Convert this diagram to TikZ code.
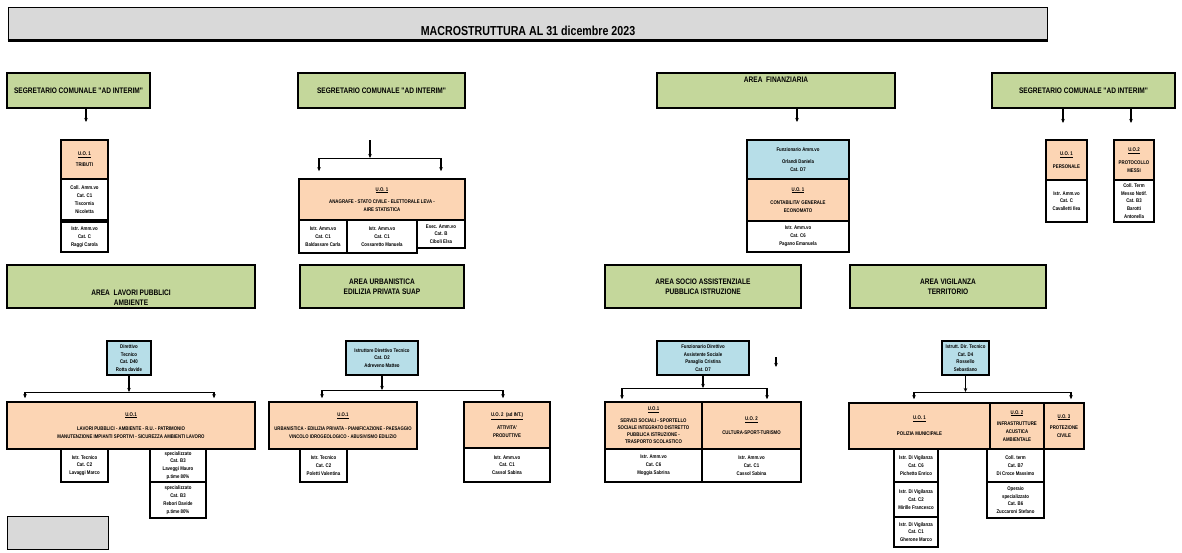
\documentclass[tikz,border=0pt]{standalone}
\usepackage{fontspec}
\usetikzlibrary{arrows.meta}
\newfontfamily\arialn[FakeStretch=0.82]{Liberation Sans}
\newcommand{\fonttitolo}{\arialn\bfseries\fontsize{13}{15}\selectfont}
\newcommand{\fontarea}{\arialn\bfseries\fontsize{8}{10}\selectfont}
\newcommand{\fontuo}{\arialn\bfseries\fontsize{5.3}{7.8}\selectfont}
\definecolor{verde}{HTML}{C4D79B}
\definecolor{pesca}{HTML}{FCD5B4}
\definecolor{azzurro}{HTML}{B7DEE8}
\definecolor{grigio}{HTML}{D9D9D9}
\begin{document}
\begin{tikzpicture}
	[x=1pt, y=-1pt,
	titolo/.style={draw, line width=1pt, fill=grigio, minimum width=1039, minimum height=33},
	area/.style={draw, line width=1.6pt, fill=verde, inner sep=0pt},
	uo/.style={draw, line width=1.6pt, fill=pesca, inner sep=0pt, align=center, font=\fontuo},
	resp/.style={draw, line width=1.6pt, fill=azzurro, inner sep=0pt, align=center, font=\fontuo},
	pers/.style={draw, line width=1.6pt, fill=white, inner sep=0pt, align=center, font=\fontuo},
	testo/.style={align=center, font=\fontarea},
	freccia/.style={->, line width=1.1pt},
	barra/.style={line width=0.7pt},
	>={Stealth[length=4pt,width=3.5pt]}]
	\useasboundingbox (0,0) rectangle (1182,552);
	% titolo
	\node (titolo) [titolo] at (527.5,23.5) {};
	\draw[line width=2.2pt] (titolo.south west) -- (titolo.south east);
	\node (titolotesto) [font=\fonttitolo] at (528,31) {MACROSTRUTTURA AL 31 dicembre 2023};
	% prima riga
	\node (segA) [area, testo, minimum width=143, minimum height=35] at (78.5,90.5) {SEGRETARIO COMUNALE "AD INTERIM"};
	\node (segB) [area, testo, minimum width=167, minimum height=35] at (381.5,90.5) {SEGRETARIO COMUNALE "AD INTERIM"};
	\node (segC) [area, minimum width=238, minimum height=35] at (776,90.5) {};
	\node (segCtesto) [testo] at (776,80) {AREA \ FINANZIARIA};
	\node (segD) [area, testo, minimum width=183, minimum height=35] at (1083.5,90.5) {SEGRETARIO COMUNALE "AD INTERIM"};
	% tributi
	\node (trib) [uo, minimum width=47, minimum height=39] at (84.5,159.5) {\underline{U.O. 1}\\[3pt]TRIBUTI};
	\node (tribp1) [pers, minimum width=47, minimum height=41] at (84.5,199.5) {Coll. Amm.vo\\Cat. C1\\Tiscornia\\Nicoletta};
	\node (tribp2) [pers, minimum width=47, minimum height=30] at (84.5,237) {Istr. Amm.vo\\Cat. C\\Raggi Carola};
	% anagrafe
	\node (anag) [uo, minimum width=166, minimum height=41] at (382,199.5) {\underline{U.O. 1}\\[5pt]ANAGRAFE - STATO CIVILE - ELETTORALE LEVA -\\AIRE STATISTICA};
	\node (anagp1) [pers, minimum width=48, minimum height=33] at (323,236.5) {Istr. Amm.vo\\Cat. C1\\Baldassare Carla};
	\node (anagp2) [pers, minimum width=70, minimum height=33] at (382,236.5) {Istr. Amm.vo\\Cat. C1\\Cossaretto Manuela};
	\node (anagp3) [pers, minimum width=48, minimum height=28] at (441,234) {Esec. Amm.vo\\Cat. B\\Ciboli Elsa};
	% finanziaria
	\node (finresp) [resp, minimum width=102, minimum height=39] at (798,159.5) {Funzionario Amm.vo\\[5pt]Orlandi Daniela\\Cat. D7};
	\node (fin) [uo, minimum width=102, minimum height=42] at (798,200) {\underline{U.O. 1}\\[6pt]CONTABILITA' GENERALE\\ECONOMATO};
	\node (finp) [pers, minimum width=102, minimum height=31] at (798,236.5) {Istr. Amm.vo\\Cat. C6\\Pagano Emanuela};
	% personale e protocollo
	\node (pers) [uo, minimum width=41, minimum height=40] at (1066.5,160) {\underline{U.O. 1}\\[5pt]PERSONALE};
	\node (persp) [pers, minimum width=41, minimum height=42] at (1066.5,201) {Istr. Amm.vo\\Cat. C\\Cavalletti Ilea};
	\node (prot) [uo, minimum width=40, minimum height=40] at (1134,160) {\underline{U.O.2}\\[5pt]PROTOCOLLO\\MESSI};
	\node (protp) [pers, minimum width=40, minimum height=42] at (1134,201) {Coll. Term\\Messo Notif.\\Cat. B3\\Barotti\\Antonella};
	% frecce prima riga
	\coordinate (a1) at (86,122);
	\coordinate (b0) at (370,140);
	\coordinate (b1) at (370,158);
	\coordinate (bL) at (319,158);
	\coordinate (bR) at (441,158);
	\coordinate (c1) at (797,122);
	\coordinate (d1) at (1063,123);
	\coordinate (d2) at (1131,123);
	\draw[freccia] (segA.south -| a1) -- (a1);
	\draw[freccia] (b0) -- (b1);
	\draw[barra] (bL) -- (bR);
	\draw[freccia, shorten >=7pt] (bL) -- (bL |- anag.north);
	\draw[freccia, shorten >=7pt] (bR) -- (bR |- anag.north);
	\draw[freccia] (segC.south -| c1) -- (c1);
	\draw[freccia] (segD.south -| d1) -- (d1);
	\draw[freccia] (segD.south -| d2) -- (d2);
	% seconda riga: aree
	\node (areaE) [area, minimum width=248, minimum height=43] at (131,286.5) {};
	\node (areaEtesto) [testo] at (131,297.5) {AREA \ LAVORI PUBBLICI\\AMBIENTE};
	\node (areaF) [area, testo, minimum width=164, minimum height=43] at (382,286.5) {AREA URBANISTICA\\EDILIZIA PRIVATA SUAP};
	\node (areaG) [area, testo, minimum width=196, minimum height=43] at (703,286.5) {AREA SOCIO ASSISTENZIALE\\PUBBLICA ISTRUZIONE};
	\node (areaH) [area, testo, minimum width=196, minimum height=43] at (948,286.5) {AREA VIGILANZA\\TERRITORIO};
	% lavori pubblici
	\node (respE) [resp, minimum width=44, minimum height=34] at (129,358) {Direttivo\\Tecnico\\Cat. D40\\Rotta davide};
	\node (lavori) [uo, minimum width=248, minimum height=47] at (131,425.5) {\underline{U.O.1}\\[7pt]LAVORI PUBBLICI - AMBIENTE - R.U. - PATRIMONIO\\MANUTENZIONE IMPIANTI SPORTIVI - SICUREZZA AMBIENTI LAVORO};
	\node (lavp1) [pers, minimum width=47, minimum height=33] at (84.5,465.5) {Istr. Tecnico\\Cat. C2\\Lavaggi Marco};
	\node (lavp2) [pers, minimum width=56, minimum height=33] at (178,465.5) {specializzato\\Cat. B3\\Laveggi Mauro\\p.time 80\%};
	\node (lavp3) [pers, minimum width=56, minimum height=36] at (178,500) {specializzato\\Cat. B3\\Rebori Davide\\p.time 80\%};
	\node (grigio) [draw, line width=1pt, fill=grigio, minimum width=101, minimum height=33] at (57.5,532.5) {};
	% urbanistica
	\node (respF) [resp, minimum width=72, minimum height=34] at (382,358) {Istruttore Direttivo Tecnico\\Cat. D2\\Adreveno Matteo};
	\node (urb) [uo, minimum width=148, minimum height=47, font=\arialn\bfseries\fontsize{5.2}{7.8}\selectfont] at (343,425.5) {\underline{U.O.1}\\[6pt]URBANISTICA - EDILIZIA PRIVATA - PIANIFICAZIONE - PAESAGGIO\\VINCOLO IDROGEOLOGICO - ABUSIVISMO EDILIZIO};
	\node (urbp) [pers, minimum width=47, minimum height=33] at (323.5,465.5) {Istr. Tecnico\\Cat. C2\\Poletti Valentina};
	\node (att) [uo, minimum width=86, minimum height=46] at (507,425) {\underline{U.O. 2 \ (ad INT.)}\\[5pt]ATTIVITA'\\PRODUTTIVE};
	\node (attp) [pers, minimum width=86, minimum height=34] at (507,465) {Istr. Amm.vo\\Cat. C1\\Cassol Sabina};
	% socio assistenziale
	\node (respG) [resp, minimum width=92, minimum height=34] at (703,358) {Funzionario Direttivo\\Assistente Sociale\\Panaglio Cristina\\Cat. D7};
	\node (soc1) [uo, minimum width=97, minimum height=47, font=\arialn\bfseries\fontsize{5.3}{7.3}\selectfont] at (653.5,425.5) {\underline{U.O.1}\\[4pt]SERVIZI SOCIALI - SPORTELLO\\SOCIALE INTEGRATO DISTRETTO\\PUBBLICA ISTRUZIONE -\\TRASPORTO SCOLASTICO};
	\node (soc2) [uo, minimum width=99, minimum height=47] at (751.5,425.5) {\underline{U.O. 2}\\[6pt]CULTURA-SPORT-TURISMO};
	\node (socp1) [pers, minimum width=97, minimum height=33] at (653.5,465.5) {Istr. Amm.vo\\Cat. C6\\Moggia Sabrina};
	\node (socp2) [pers, minimum width=99, minimum height=33] at (751.5,465.5) {Istr. Amm.vo\\Cat. C1\\Cassol Sabina};
	% vigilanza
	\node (respH) [resp, minimum width=47, minimum height=34] at (965.5,358) {Istrutt. Dir. Tecnico\\Cat. D4\\Rossello\\Sebastiano};
	\node (pm) [uo, minimum width=141, minimum height=46] at (919.5,426) {\underline{U.O. 1}\\[8pt]POLIZIA MUNICIPALE};
	\node (infr) [uo, minimum width=54, minimum height=46] at (1017,426) {\underline{U.O. 2}\\[4pt]INFRASTRUTTURE\\ACUSTICA\\AMBIENTALE};
	\node (pciv) [uo, minimum width=40, minimum height=46] at (1064,426) {\underline{U.O. 3}\\[4pt]PROTEZIONE\\CIVILE};
	\node (pmp1) [pers, minimum width=44, minimum height=33] at (916,465.5) {Istr. Di Vigilanza\\Cat. C6\\Pichetto Enrico};
	\node (pmp2) [pers, minimum width=44, minimum height=35] at (916,499.5) {Istr. Di Vigilanza\\Cat. C2\\Mirille Francesco};
	\node (pmp3) [pers, minimum width=44, minimum height=30] at (916,532) {Istr. Di Vigilanza\\Cat. C1\\Gherone Marco};
	\node (infp1) [pers, minimum width=57, minimum height=33] at (1015.5,465.5) {Coll. term\\Cat. B7\\Di Croce Massimo};
	\node (infp2) [pers, minimum width=57, minimum height=36] at (1015.5,500) {Operaio\\specializzato\\Cat. B6\\Zuccaroni Stefano};
	% frecce seconda riga
	\coordinate (eL) at (25,392);
	\coordinate (eR) at (214,392);
	\coordinate (fL) at (322,390);
	\coordinate (fR) at (503,390);
	\coordinate (gL) at (622,388);
	\coordinate (gR) at (767,388);
	\coordinate (g1) at (776,357);
	\coordinate (g2) at (776,367);
	\coordinate (hL) at (914,392);
	\coordinate (hR) at (1071,392);
	\draw[freccia] (respE) -- (respE |- eL);
	\draw[barra] (eL) -- (eR);
	\draw[freccia, shorten >=3pt] (eL) -- (eL |- lavori.north);
	\draw[freccia, shorten >=3pt] (eR) -- (eR |- lavori.north);
	\draw[freccia] (respF) -- (respF |- fL);
	\draw[barra] (fL) -- (fR);
	\draw[freccia, shorten >=3pt] (fL) -- (fL |- urb.north);
	\draw[freccia, shorten >=3pt] (fR) -- (fR |- att.north);
	\draw[freccia] (respG) -- (respG |- gL);
	\draw[barra] (gL) -- (gR);
	\draw[freccia, shorten >=2pt] (gL) -- (gL |- soc1.north);
	\draw[freccia, shorten >=2pt] (gR) -- (gR |- soc2.north);
	\draw[freccia] (g1) -- (g2);
	\draw[freccia] (respH) -- (respH |- hL);
	\draw[barra] (hL) -- (hR);
	\draw[freccia, shorten >=3pt] (hL) -- (hL |- pm.north);
	\draw[freccia, shorten >=3pt] (hR) -- (hR |- pciv.north);
\end{tikzpicture}
\end{document}
